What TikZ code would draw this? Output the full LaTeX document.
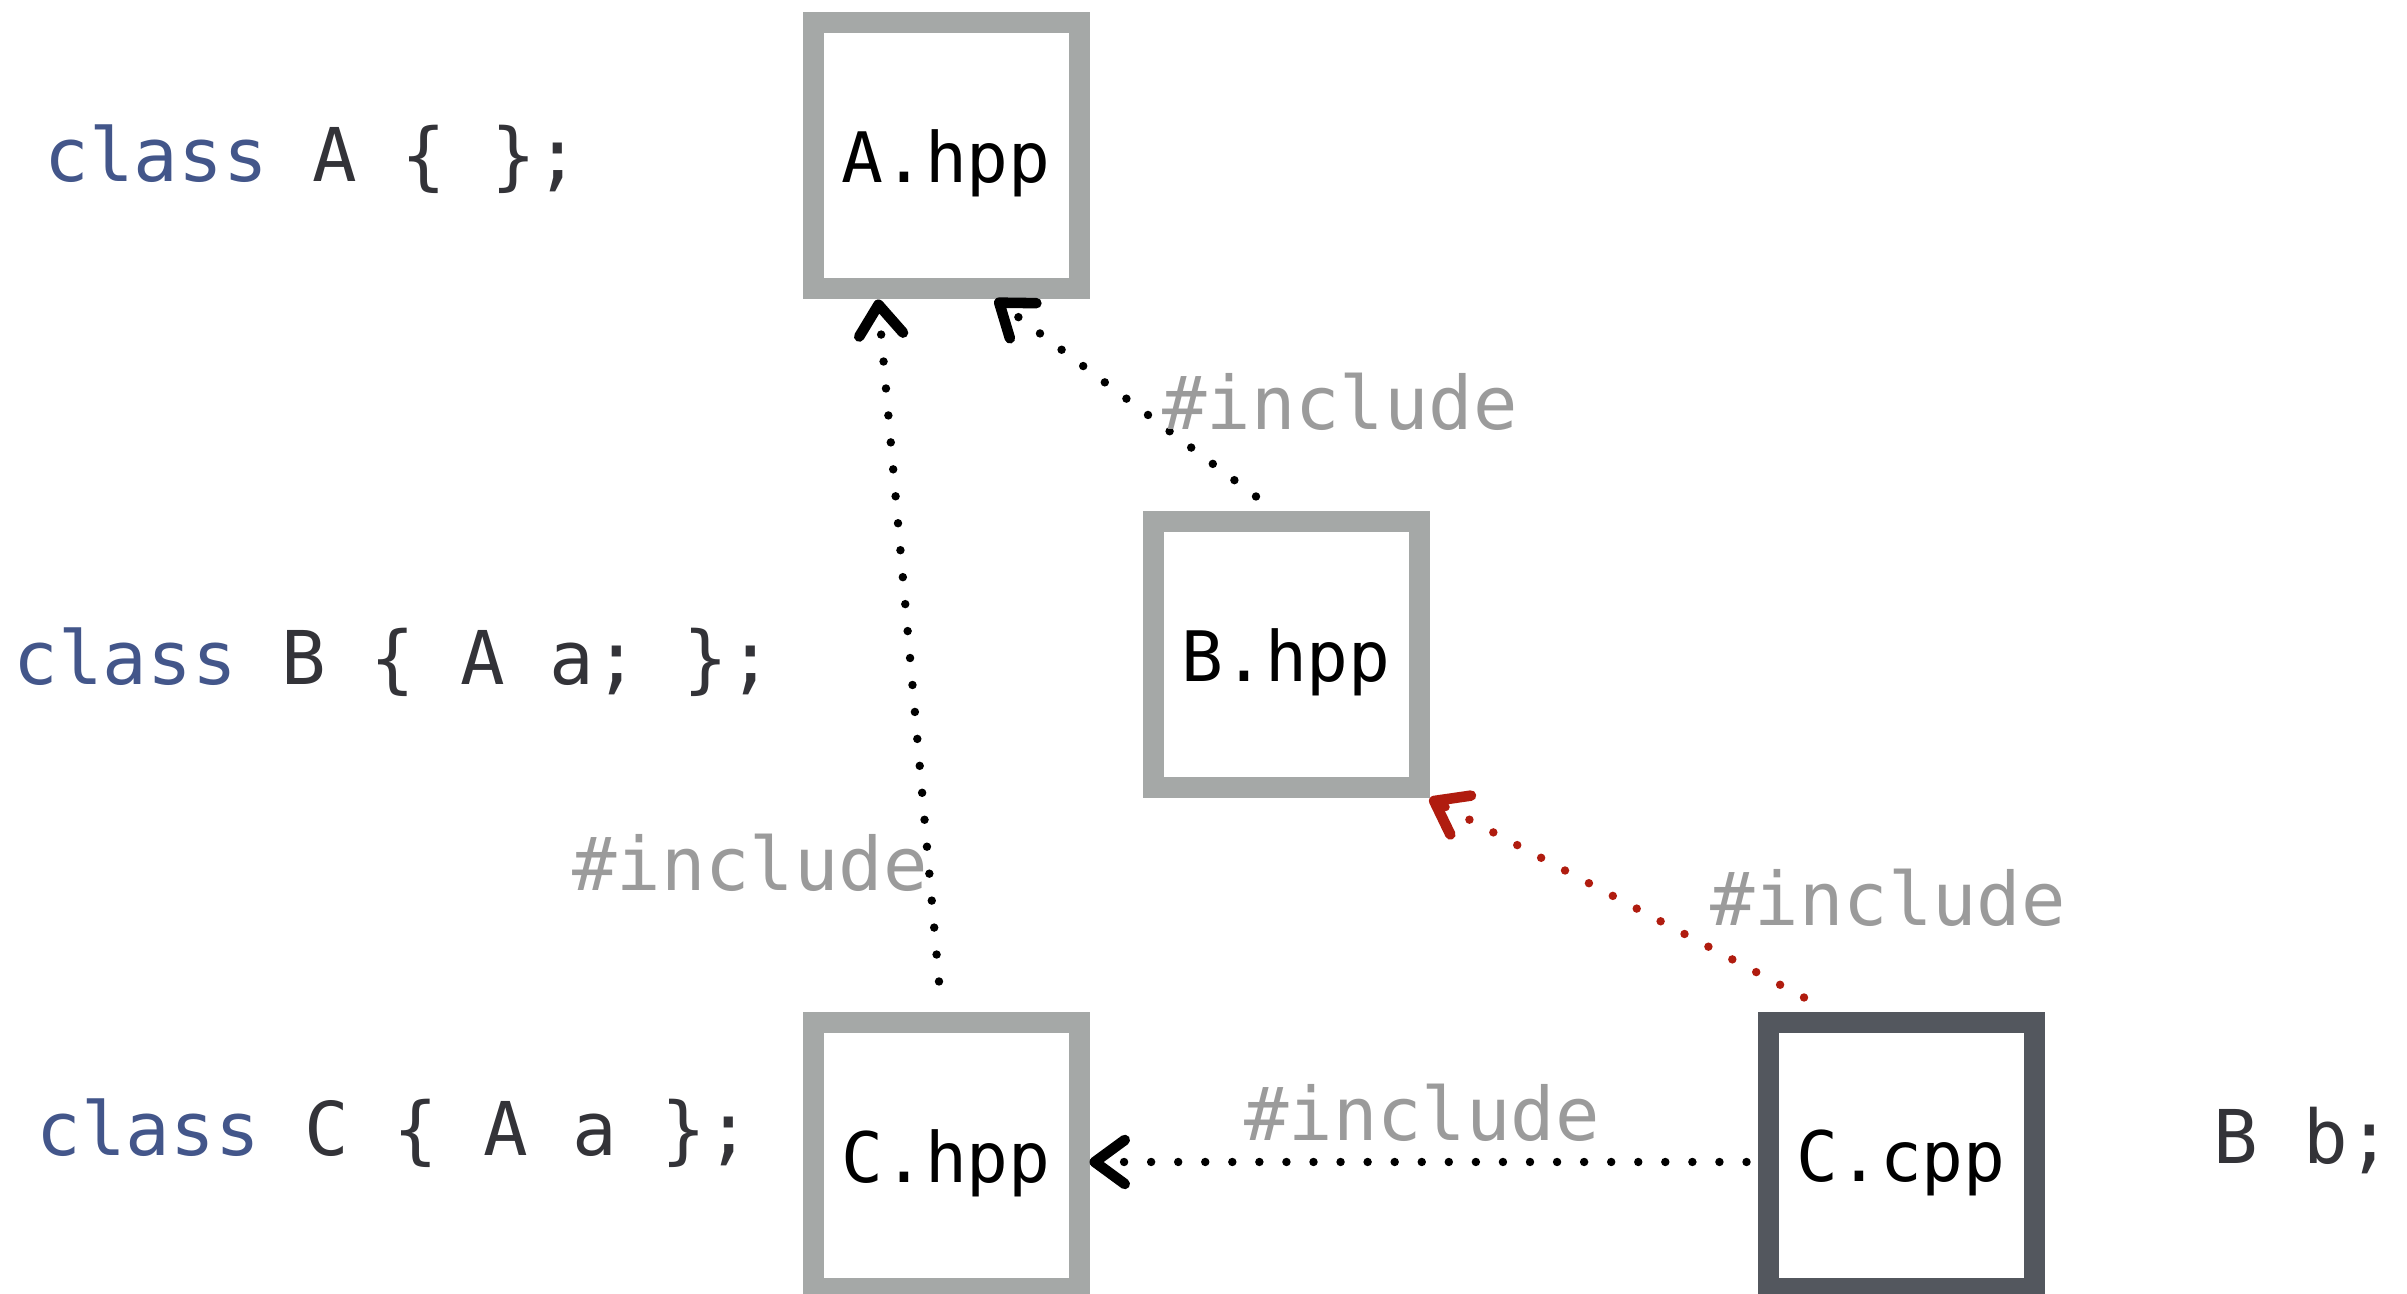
\documentclass[tikz,border=0pt]{standalone}
\usepackage{fontspec}
\usetikzlibrary{arrows.meta}
\newfontfamily\codefont{DejaVu Sans Mono}
\definecolor{boxgrey}{HTML}{A5A8A7}
\definecolor{cppgrey}{HTML}{53575E}
\definecolor{labelgrey}{HTML}{9B9B9B}
\definecolor{kwblue}{HTML}{43568A}
\definecolor{codeink}{HTML}{333338}
\definecolor{inclred}{HTML}{B01C0F}
\newcommand{\kw}[1]{\textcolor{kwblue}{#1}}
\begin{document}
\begin{tikzpicture}[
    filebox/.style={draw=boxgrey, line width=0.21cm, minimum size=2.66cm,
        inner sep=0pt, fill=white, text depth=0pt,
        font=\codefont\fontsize{19.8pt}{23pt}\selectfont},
    incl/.style={line width=2.4pt, dash pattern=on 0pt off 7.7pt, line cap=round,
        -{Straight Barb[length=0.3cm,width=0.44cm,line width=3pt,round]}},
    inclabel/.style={text=labelgrey, font=\codefont\fontsize{21pt}{24pt}\selectfont},
    code/.style={anchor=base west, text=codeink, inner sep=0pt,
        font=\codefont\fontsize{21.1pt}{24pt}\selectfont}
]
    \useasboundingbox (0,0) rectangle (24.07,12.94);

    % the files
    \node[filebox] (ahpp) at (9.46,11.38) {A.hpp};
    \node[filebox] (bhpp) at (12.86,6.39) {B.hpp};
    \node[filebox] (chpp) at (9.46,1.38) {C.hpp};
    \node[filebox, draw=cppgrey] (ccpp) at (19.01,1.38) {C.cpp};

    % what is in them
    \node[code] (cla) at (0.44,11.12) {\kw{class} A \{ \};};
    \node[code] (clb) at (0.13,6.09) {\kw{class} B \{ A a; \};};
    \node[code] (clc) at (0.36,1.38) {\kw{class} C \{ A a \};};
    \node[code] (bb) at (22.13,1.30) {B b;};

    % includes
    \draw[incl] ([xshift=-0.07cm,yshift=0.31cm]chpp.north)
        -- ([xshift=-0.68cm]ahpp.south);
    \draw[incl] ([xshift=-0.30cm,yshift=0.15cm]bhpp.north)
        -- ([xshift=0.49cm]ahpp.south);
    \draw[incl, inclred] ([xshift=-0.97cm,yshift=0.15cm]ccpp.north)
        -- (bhpp.south east);
    \draw[incl] ([xshift=-0.11cm,yshift=-0.06cm]ccpp.west)
        -- ([yshift=-0.06cm]chpp.east);

    \node[inclabel] (inc1) at (13.40,8.92) {\#include};
    \node[inclabel] (inc2) at (7.50,4.31) {\#include};
    \node[inclabel] (inc3) at (18.88,3.96) {\#include};
    \node[inclabel] (inc4) at (14.22,1.81) {\#include};
\end{tikzpicture}
\end{document}
